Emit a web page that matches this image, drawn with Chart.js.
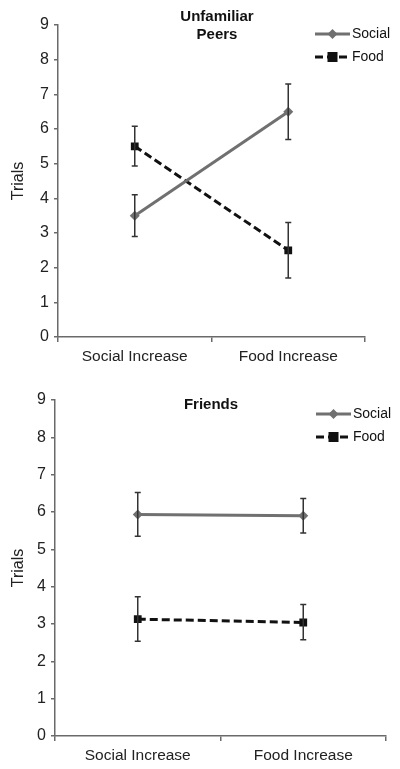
<!DOCTYPE html>
<html>
<head>
<meta charset="utf-8">
<script src="https://cdn.jsdelivr.net/npm/chart.js@4/dist/chart.umd.min.js"></script>
<style>
  html, body { margin: 0; padding: 0; background: #fff; }
  #wrap { position: relative; width: 400px; height: 769px; }
  canvas { position: absolute; left: 0; }
</style>
</head>
<body>
<div id="wrap">
  <canvas id="c1" width="400" height="385" style="top:0"></canvas>
  <canvas id="c2" width="400" height="384" style="top:385px"></canvas>
</div>
<script>
const categories = ['Social Increase', 'Food Increase'];
const yTicks = [0, 1, 2, 3, 4, 5, 6, 7, 8, 9];
const seriesNames = ['Social', 'Food'];

// Panel 1: Unfamiliar Peers
const peersTitle = ['Unfamiliar', 'Peers'];
const peersSocial = [3.5, 6.5];
const peersSocialLow = [2.9, 5.7];
const peersSocialHigh = [4.1, 7.3];
const peersFood = [5.5, 2.5];
const peersFoodLow = [4.93, 1.7];
const peersFoodHigh = [6.08, 3.3];

// Panel 2: Friends
const friendsTitle = ['Friends'];
const friendsSocial = [5.93, 5.9];
const friendsSocialLow = [5.35, 5.44];
const friendsSocialHigh = [6.52, 6.36];
const friendsFood = [3.13, 3.04];
const friendsFoodLow = [2.54, 2.58];
const friendsFoodHigh = [3.73, 3.52];

const FONT = '"Liberation Sans", Arial, sans-serif';
const SOCIAL_COLOR = '#707070';
const FOOD_COLOR = '#111111';
const AXIS_COLOR = '#6a6a6a';

const errorBarPlugin = {
  id: 'errorBars',
  afterDatasetsDraw(chart) {
    const ctx = chart.ctx;
    const y = chart.scales.y;
    ctx.save();
    ctx.strokeStyle = '#333';
    ctx.lineWidth = 1.5;
    chart.data.datasets.forEach((ds, di) => {
      const meta = chart.getDatasetMeta(di);
      meta.data.forEach((pt, i) => {
        const lo = y.getPixelForValue(ds.errLow[i]);
        const hi = y.getPixelForValue(ds.errHigh[i]);
        ctx.beginPath();
        ctx.moveTo(pt.x, lo); ctx.lineTo(pt.x, hi);
        ctx.moveTo(pt.x - 3, lo); ctx.lineTo(pt.x + 3, lo);
        ctx.moveTo(pt.x - 3, hi); ctx.lineTo(pt.x + 3, hi);
        ctx.stroke();
      });
    });
    ctx.restore();
  }
};

const annotPlugin = {
  id: 'annot',
  afterDraw(chart, args, opts) {
    const ctx = chart.ctx;
    ctx.save();
    // title
    ctx.fillStyle = '#111';
    ctx.font = 'bold 15px ' + FONT;
    ctx.textAlign = 'center';
    ctx.textBaseline = 'middle';
    opts.title.forEach((t, i) => ctx.fillText(t, opts.titleX, opts.titleY + i * 18));
    // legend
    const ds = chart.data.datasets;
    ds.forEach((d, i) => {
      const ly = opts.legendY + i * 23;
      const x0 = opts.legendX, x1 = opts.legendX + 35;
      ctx.strokeStyle = d.borderColor;
      ctx.lineWidth = 3;
      ctx.setLineDash(d.borderDash || []);
      ctx.beginPath(); ctx.moveTo(x0, ly); ctx.lineTo(x1, ly); ctx.stroke();
      ctx.setLineDash([]);
      const mx = (x0 + x1) / 2;
      ctx.fillStyle = d.pointBackgroundColor;
      if (d.pointStyle === 'rect') {
        ctx.fillRect(mx - 5, ly - 5, 10, 10);
      } else {
        ctx.beginPath();
        ctx.moveTo(mx, ly - 5); ctx.lineTo(mx + 5, ly); ctx.lineTo(mx, ly + 5); ctx.lineTo(mx - 5, ly);
        ctx.closePath(); ctx.fill();
      }
      ctx.fillStyle = '#111';
      ctx.font = '14px ' + FONT;
      ctx.textAlign = 'left';
      ctx.fillText(seriesNames[i], x1 + 2, ly);
    });
    ctx.restore();
  }
};

function makeChart(id, social, sLo, sHi, food, fLo, fHi, geo) {
  return new Chart(document.getElementById(id), {
    type: 'line',
    data: {
      labels: categories,
      datasets: [
        {
          label: seriesNames[0], data: social, errLow: sLo, errHigh: sHi,
          borderColor: SOCIAL_COLOR, backgroundColor: SOCIAL_COLOR,
          pointBackgroundColor: SOCIAL_COLOR, pointBorderColor: SOCIAL_COLOR,
          borderWidth: 3, pointStyle: 'rectRot', pointRadius: 5, pointBorderWidth: 0,
          tension: 0, fill: false
        },
        {
          label: seriesNames[1], data: food, errLow: fLo, errHigh: fHi,
          borderColor: FOOD_COLOR, backgroundColor: FOOD_COLOR,
          pointBackgroundColor: FOOD_COLOR, pointBorderColor: FOOD_COLOR,
          borderWidth: 3, borderDash: [8, 4], pointStyle: 'rect', pointRadius: 5.5, pointBorderWidth: 0,
          tension: 0, fill: false
        }
      ]
    },
    options: {
      responsive: false,
      devicePixelRatio: 1,
      animation: false,
      events: [],
      layout: { padding: { left: 0, right: geo.padRight, top: geo.padTop, bottom: 0 } },
      plugins: {
        legend: { display: false },
        tooltip: { enabled: false },
        annot: geo.annot
      },
      scales: {
        x: {
          type: 'category',
          offset: true,
          grid: { display: true, drawOnChartArea: false, offset: true, color: AXIS_COLOR, tickLength: 5, lineWidth: 1.5 },
          border: { display: true, color: AXIS_COLOR, width: 1.5 },
          ticks: { color: '#222', font: { family: FONT, size: 15.5 }, padding: 5, maxRotation: 0 },
          afterFit: s => { s.height = geo.xHeight; }
        },
        y: {
          min: 0, max: 9,
          afterBuildTicks: s => { s.ticks = yTicks.map(v => ({ value: v })); },
          grid: { display: true, drawOnChartArea: false, color: AXIS_COLOR, tickLength: 4, lineWidth: 1.5 },
          border: { display: true, color: AXIS_COLOR, width: 1.5 },
          ticks: { color: '#222', font: { family: FONT, size: 16 }, padding: 5 },
          title: { display: true, text: 'Trials', color: '#222', font: { family: FONT, size: 16 }, padding: { top: 9, bottom: 0 } },
          afterFit: s => { s.width = geo.yWidth; }
        }
      }
    },
    plugins: [errorBarPlugin, annotPlugin]
  });
}

makeChart('c1', peersSocial, peersSocialLow, peersSocialHigh, peersFood, peersFoodLow, peersFoodHigh, {
  padRight: 35, padTop: 25, xHeight: 48, yWidth: 58,
  annot: { title: peersTitle, titleX: 217, titleY: 17, legendX: 315, legendY: 34 }
});
makeChart('c2', friendsSocial, friendsSocialLow, friendsSocialHigh, friendsFood, friendsFoodLow, friendsFoodHigh, {
  padRight: 14, padTop: 15, xHeight: 33, yWidth: 55,
  annot: { title: friendsTitle, titleX: 211, titleY: 20, legendX: 316, legendY: 29 }
});
</script>
</body>
</html>
